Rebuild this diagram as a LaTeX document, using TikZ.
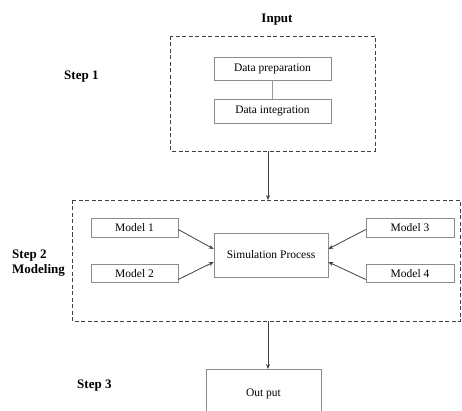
\documentclass[tikz,border=0pt]{standalone}
\usepackage{fontspec}
\setmainfont{Liberation Serif}
\usetikzlibrary{arrows.meta}
\begin{document}
\begin{tikzpicture}[x=1pt,y=-1pt,
  box/.style={draw=black!45,line width=0.6pt,inner sep=0pt,font=\fontsize{11.5}{13}\selectfont},
  group/.style={draw=black!75,dashed,dash pattern=on 4pt off 2.5pt,line width=0.9pt},
  lbl/.style={font=\bfseries\fontsize{13}{15}\selectfont,inner sep=0pt,anchor=west,align=left},
  arr/.style={draw=black!75,line width=0.8pt,-{Stealth[length=5pt,width=4pt]}}]
\useasboundingbox (0,0) rectangle (462,411);
% group frames
\draw[group] (170,36) rectangle (375,151);
\draw[group] (72,200) rectangle (460,321);
\coordinate (inbot) at (268,151);
\coordinate (modtop) at (268,200);
\coordinate (modbot) at (268,321);
% labels
\node[font=\bfseries\fontsize{13}{15}\selectfont] (input) at (277,20) {Input};
\node[lbl] (s1) at (64,77) {Step 1};
\node[lbl] (s2) at (12,263.5) {Step 2\\Modeling};
\node[lbl] (s3) at (77,386) {Step 3};
% input boxes
\node[box,minimum width=117pt,minimum height=23pt] (dp) at (272.5,68.5) {Data preparation};
\node[box,minimum width=117pt,minimum height=24pt] (di) at (272.5,111) {Data integration};
\draw[draw=black!40,line width=0.6pt] (dp.south) -- (di.north);
% models
\node[box,minimum width=87pt,minimum height=19pt] (m1) at (134.5,227.5) {Model 1};
\node[box,minimum width=87pt,minimum height=18pt] (m2) at (134.5,273.5) {Model 2};
\node[box,minimum width=88pt,minimum height=19pt] (m3) at (410,227.5) {Model 3};
\node[box,minimum width=88pt,minimum height=18pt] (m4) at (410,273.5) {Model 4};
\node[box,minimum width=114pt,minimum height=44pt] (sim) at (271,255) {Simulation Process};
\node[box,minimum width=115pt,minimum height=50pt,anchor=north] (out) at (263.5,369) {Out put};
% arrows
\draw[arr] (inbot) -- (modtop);
\draw[arr] (modbot) -- (out.north -| modbot);
\draw[arr] (m1.east) ++(0,2) -- ([yshift=6pt]sim.west);
\draw[arr] (m2.east) ++(0,6) -- ([yshift=-7pt]sim.west);
\draw[arr] (m3.west) ++(0,2) -- ([yshift=6pt]sim.east);
\draw[arr] (m4.west) ++(0,6) -- ([yshift=-7pt]sim.east);
\end{tikzpicture}
\end{document}
